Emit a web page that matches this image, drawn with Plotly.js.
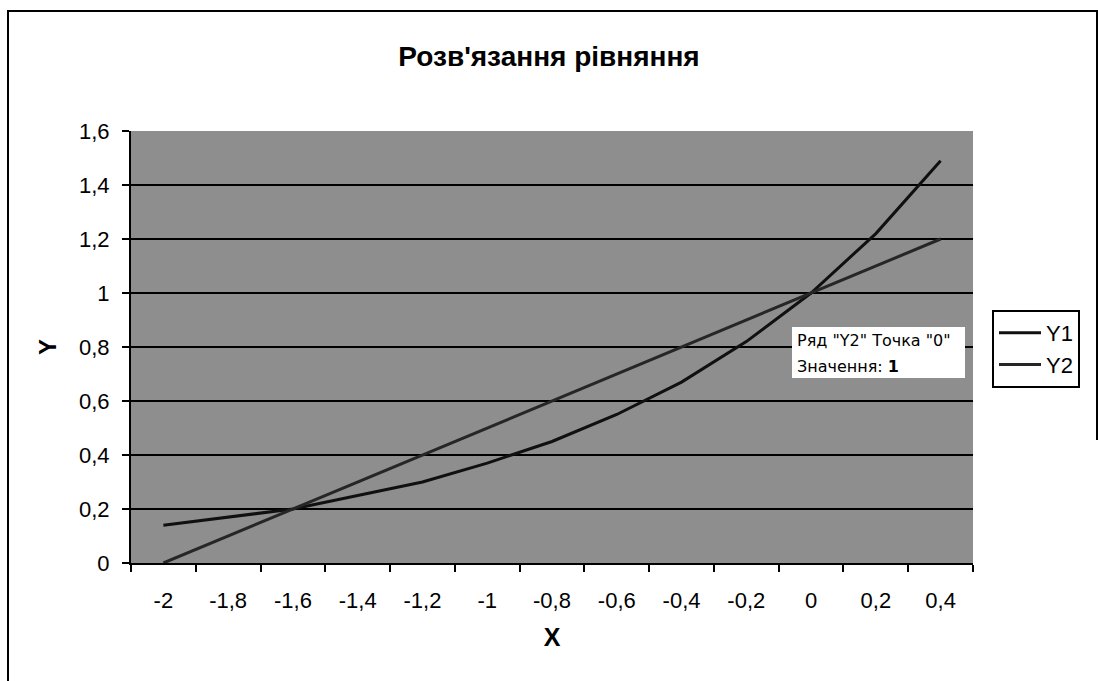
<!DOCTYPE html>
<html>
<head>
<meta charset="utf-8">
<script src="https://cdn.plot.ly/plotly-3.0.1.min.js"></script>
<style>html,body{margin:0;padding:0;background:#fff;}#chart{width:1098px;height:681px;}</style>
</head>
<body>
<div id="chart"></div>
<script>
// Data
const xLabels = ["-2", "-1,8", "-1,6", "-1,4", "-1,2", "-1", "-0,8", "-0,6", "-0,4", "-0,2", "0", "0,2", "0,4"];
const y1Values = [0.14, 0.17, 0.2, 0.25, 0.3, 0.37, 0.45, 0.55, 0.67, 0.82, 1.0, 1.22, 1.49];
const y2Values = [0.0, 0.1, 0.2, 0.3, 0.4, 0.5, 0.6, 0.7, 0.8, 0.9, 1.0, 1.1, 1.2];
const seriesNames = ["Y1", "Y2"];
const chartTitle = "Розв'язання рівняння";
const xTitle = "X";
const yTitle = "Y";
const tipLine1 = 'Ряд "Y2" Точка "0"';
const tipLine2 = 'Значення: <b>1</b>';

// pixel -> paper helpers (plot area: left 131, right 973, top 131, bottom 563)
const PL = 131, PR = 973, PT = 131, PB = 563;
const px = v => (v - PL) / (PR - PL);
const py = v => (PB - v) / (PB - PT);

const traces = [
  {x: xLabels, y: y1Values, name: seriesNames[0], type: 'scatter', mode: 'lines',
   line: {color: '#101010', width: 3}},
  {x: xLabels, y: y2Values, name: seriesNames[1], type: 'scatter', mode: 'lines',
   line: {color: '#262626', width: 3}}
];

const layout = {
  width: 1098, height: 681,
  margin: {l: PL, r: 1098 - PR, t: PT, b: 681 - PB, pad: 0},
  paper_bgcolor: '#ffffff',
  plot_bgcolor: '#8e8e8e',
  separators: ', ',
  font: {family: 'Liberation Sans, Arial, sans-serif', color: '#000'},
  title: {text: '<b>' + chartTitle + '</b>', x: 0.5, xanchor: 'center', y: 1 - 56/681, yanchor: 'middle',
          font: {size: 28, family: 'Liberation Sans, Arial, sans-serif', color: '#000'}},
  xaxis: {
    type: 'category', range: [-0.5, 12.5], tickson: 'boundaries',
    showgrid: false, zeroline: false,
    showline: true, linecolor: '#000', linewidth: 2,
    ticks: 'outside', ticklen: 7, tickwidth: 2, tickcolor: '#000',
    tickfont: {size: 22, color: '#000'}, ticklabelstandoff: 17,
    title: {text: '<b>' + xTitle + '</b>', font: {size: 25, color: '#000'}, standoff: 16},
    fixedrange: true
  },
  yaxis: {
    range: [0, 1.6], dtick: 0.2, tick0: 0,
    showgrid: true, gridcolor: '#000', gridwidth: 2,
    zeroline: false,
    showline: true, linecolor: '#000', linewidth: 2,
    ticks: 'outside', ticklen: 7, tickwidth: 2, tickcolor: '#000',
    tickfont: {size: 22, color: '#000'}, ticklabelstandoff: 8,
    title: {text: '<b>' + yTitle + '</b>', font: {size: 24, color: '#000'}, standoff: 16},
    fixedrange: true
  },
  showlegend: true,
  legend: {
    x: px(992), y: py(310), xanchor: 'left', yanchor: 'top',
    bgcolor: '#ffffff', bordercolor: '#000', borderwidth: 2,
    font: {size: 22, color: '#000'}, tracegroupgap: 4, itemwidth: 42
  },
  shapes: [
    // tooltip box
    {type: 'rect', xref: 'paper', yref: 'paper', x0: px(792), x1: px(965), y0: py(378), y1: py(327),
     fillcolor: '#ffffff', line: {width: 0}, layer: 'above'},
    // outer chart border (broken frame)
    {type: 'line', xref: 'paper', yref: 'paper', x0: px(8), x1: px(8), y0: py(10), y1: py(681),
     line: {color: '#000', width: 2}},
    {type: 'line', xref: 'paper', yref: 'paper', x0: px(8), x1: px(1098), y0: py(11), y1: py(11),
     line: {color: '#000', width: 2}},
    {type: 'line', xref: 'paper', yref: 'paper', x0: px(1097), x1: px(1097), y0: py(11), y1: py(440),
     line: {color: '#000', width: 2}}
  ],
  annotations: [
    {xref: 'paper', yref: 'paper', x: px(795), y: py(340), xanchor: 'left', yanchor: 'middle',
     text: tipLine1, showarrow: false, font: {size: 16, family: 'DejaVu Sans, sans-serif', color: '#000'}},
    {xref: 'paper', yref: 'paper', x: px(795), y: py(366), xanchor: 'left', yanchor: 'middle',
     text: tipLine2, showarrow: false, font: {size: 16, family: 'DejaVu Sans, sans-serif', color: '#000'}}
  ]
};

Plotly.newPlot('chart', traces, layout, {displayModeBar: false, staticPlot: true});
</script>
</body>
</html>
